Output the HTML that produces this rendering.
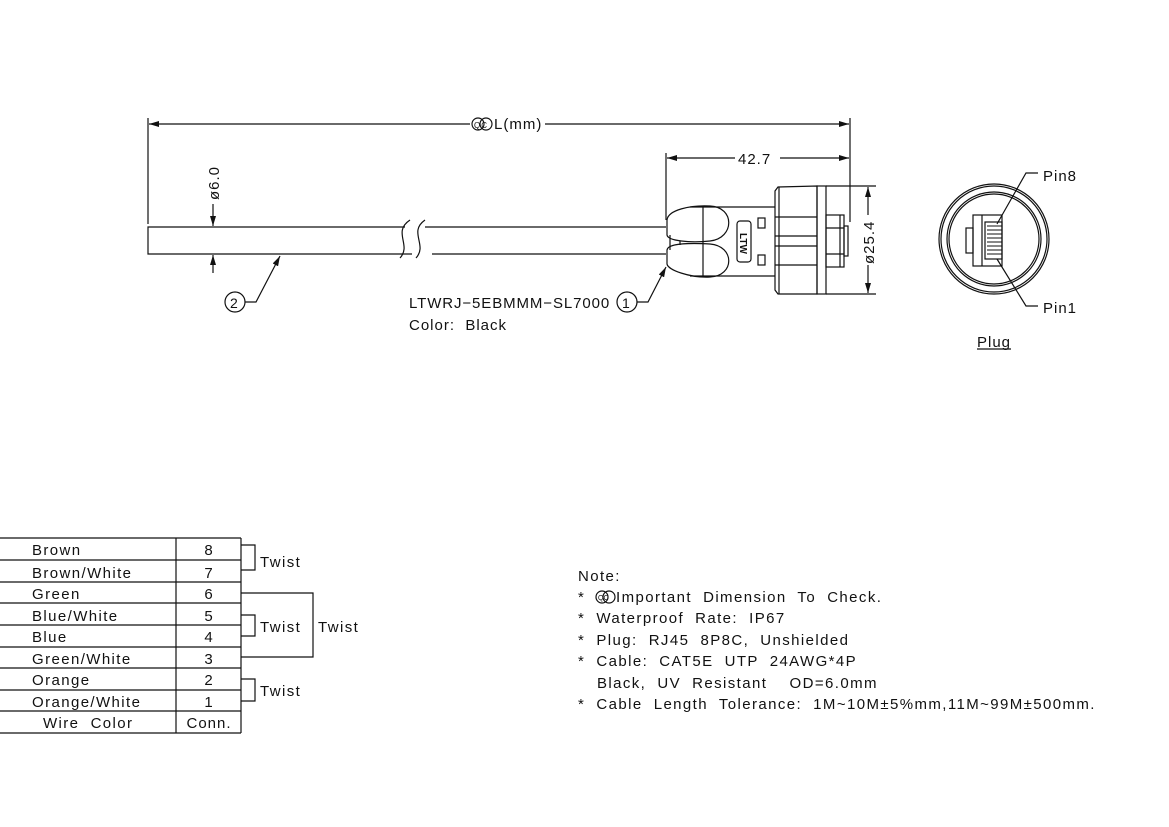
<!DOCTYPE html>
<html><head><style>
html,body{margin:0;padding:0;background:#fff;}
svg{display:block;}
text{font-family:"Liberation Sans",sans-serif;fill:#111;white-space:pre;}
</style></head><body>
<svg width="1169" height="827" viewBox="0 0 1169 827" xmlns="http://www.w3.org/2000/svg" xml:space="preserve">
<defs>
<marker id="a" markerWidth="10" markerHeight="6" refX="10" refY="3" orient="auto" markerUnits="userSpaceOnUse"><path d="M0,0 L10,3 L0,6 z" fill="#111"/></marker>
</defs>
<g stroke="#111" stroke-width="1.2" fill="none">
<line x1="148" y1="118" x2="148" y2="224"/>
<line x1="850" y1="118" x2="850" y2="222"/>
<line x1="470" y1="124" x2="149" y2="124" marker-end="url(#a)"/>
<line x1="545" y1="124" x2="849" y2="124" marker-end="url(#a)"/>
<line x1="666" y1="153" x2="666" y2="220"/>
<line x1="735" y1="158" x2="667" y2="158" marker-end="url(#a)"/>
<line x1="780" y1="158" x2="849" y2="158" marker-end="url(#a)"/>
<path d="M405,227 L148,227 L148,254 L412,254"/>
<path d="M425,227 L666,227 M432,254 L666,254"/>
<path d="M410,220 C392,232 412,245 400,258"/>
<path d="M425,220 C408,232 428,245 416,258"/>
<line x1="213" y1="204" x2="213" y2="226" marker-end="url(#a)"/>
<line x1="213" y1="273" x2="213" y2="255" marker-end="url(#a)"/>
<circle cx="235" cy="302" r="10"/>
<path d="M245,302 L256,302 L280,256" marker-end="url(#a)"/>
<path d="M690,207 L775,207 M690,276 L775,276"/>
<path d="M667,220 C668,210 690,205 710,206 C735,207 735,238 710,241 C690,243 668,241 667,235 Z"/>
<path d="M667,250 C668,243 690,243 710,244 C735,246 735,276 710,277 C690,278 668,270 667,264 Z"/>
<line x1="703" y1="206" x2="703" y2="277"/>
<line x1="670" y1="235" x2="670" y2="250"/>
<line x1="680" y1="241" x2="680" y2="245"/>
<rect x="737" y="221" width="14" height="41" rx="3"/>
<rect x="758" y="218" width="7" height="10"/>
<rect x="758" y="255" width="7" height="10"/>
<path d="M778,187 L817,186 L817,294 L778,294 L775,290 L775,191 Z"/>
<rect x="817" y="186" width="9" height="108"/>
<line x1="775" y1="217" x2="817" y2="217"/>
<line x1="775" y1="236" x2="817" y2="236"/>
<line x1="775" y1="246" x2="817" y2="246"/>
<line x1="775" y1="265" x2="817" y2="265"/>
<line x1="779" y1="187" x2="779" y2="294"/>
<rect x="826" y="215" width="18" height="52"/>
<line x1="826" y1="228" x2="844" y2="228"/>
<line x1="826" y1="254" x2="844" y2="254"/>
<line x1="840" y1="215" x2="840" y2="267"/>
<rect x="844" y="226" width="4" height="30"/>
<line x1="826" y1="186" x2="876" y2="186"/>
<line x1="826" y1="294" x2="876" y2="294"/>
<line x1="868" y1="215" x2="868" y2="187" marker-end="url(#a)"/>
<line x1="868" y1="265" x2="868" y2="293" marker-end="url(#a)"/>
<circle cx="627" cy="302" r="10"/>
<path d="M637,302 L648,302 L666,267" marker-end="url(#a)"/>
<circle cx="994" cy="239" r="55"/>
<circle cx="994" cy="239" r="53"/>
<circle cx="994" cy="239" r="47"/>
<circle cx="994" cy="239" r="45"/>
<rect x="973" y="215" width="29" height="51"/>
<rect x="966" y="228" width="7" height="25"/>
<line x1="982" y1="215" x2="982" y2="266"/>
<rect x="985" y="222" width="17" height="37"/>
<g stroke-width="1">
<line x1="987" y1="226" x2="1002" y2="226"/><line x1="987" y1="230" x2="1002" y2="230"/>
<line x1="987" y1="234" x2="1002" y2="234"/><line x1="987" y1="238" x2="1002" y2="238"/>
<line x1="987" y1="242" x2="1002" y2="242"/><line x1="987" y1="246" x2="1002" y2="246"/>
<line x1="987" y1="250" x2="1002" y2="250"/><line x1="987" y1="254" x2="1002" y2="254"/>
</g>
<path d="M997,224 L1026,173 L1038,173"/>
<path d="M997,259 L1026,306 L1038,306"/>
<line x1="977" y1="349" x2="1011" y2="349"/>
<line x1="0" y1="538" x2="241" y2="538"/>
<line x1="0" y1="560" x2="241" y2="560"/>
<line x1="0" y1="582" x2="241" y2="582"/>
<line x1="0" y1="603" x2="241" y2="603"/>
<line x1="0" y1="625" x2="241" y2="625"/>
<line x1="0" y1="647" x2="241" y2="647"/>
<line x1="0" y1="668" x2="241" y2="668"/>
<line x1="0" y1="690" x2="241" y2="690"/>
<line x1="0" y1="711" x2="241" y2="711"/>
<line x1="0" y1="733" x2="241" y2="733"/>
<line x1="176" y1="538" x2="176" y2="733"/>
<line x1="241" y1="538" x2="241" y2="733"/>
<path d="M241,545 L255,545 L255,570 L241,570"/>
<path d="M241,593 L313,593 L313,657 L241,657"/>
<path d="M241,615 L255,615 L255,636 L241,636"/>
<path d="M241,679 L255,679 L255,701 L241,701"/>
<!-- QC symbols -->
<circle cx="478" cy="124" r="6"/><circle cx="486" cy="124" r="6"/>
<circle cx="602" cy="597" r="6"/><circle cx="609" cy="597" r="6"/>
</g>
<g font-size="15" letter-spacing="1">
<text x="474" y="128" font-size="8">QC</text>
<text x="494" y="129">L(mm)</text>
<text x="738" y="164">42.7</text>
<text transform="translate(219,200) rotate(-90)">ø6.0</text>
<text transform="translate(874,264) rotate(-90)">ø25.4</text>
<text x="230" y="308" font-size="14">2</text>
<text x="622" y="308" font-size="14">1</text>
<text x="409" y="308" letter-spacing="0.9">LTWRJ−5EBMMM−SL7000</text>
<text x="409" y="330">Color:  Black</text>
<text x="1043" y="181">Pin8</text>
<text x="1043" y="313">Pin1</text>
<text x="977" y="347">Plug</text>
<text transform="translate(740,233) rotate(90)" font-size="10" font-weight="bold" letter-spacing="0">LTW</text>
</g>
<g font-size="15" letter-spacing="1.4">
<text x="32" y="555">Brown</text>
<text x="32" y="578">Brown/White</text>
<text x="32" y="599">Green</text>
<text x="32" y="621">Blue/White</text>
<text x="32" y="642">Blue</text>
<text x="32" y="664">Green/White</text>
<text x="32" y="685">Orange</text>
<text x="32" y="707">Orange/White</text>
<text x="43" y="728">Wire  Color</text>
<g text-anchor="middle" letter-spacing="1">
<text x="209" y="555">8</text><text x="209" y="578">7</text><text x="209" y="599">6</text>
<text x="209" y="621">5</text><text x="209" y="642">4</text><text x="209" y="664">3</text>
<text x="209" y="685">2</text><text x="209" y="707">1</text><text x="209" y="728">Conn.</text>
</g>
<text x="260" y="567">Twist</text>
<text x="260" y="632">Twist</text>
<text x="318" y="632">Twist</text>
<text x="260" y="696">Twist</text>
<text x="578" y="581">Note:</text>
<text x="578" y="602">*  </text>
<text x="598" y="600" font-size="7" letter-spacing="0">QC</text>
<text x="616" y="602">Important  Dimension  To  Check.</text>
<text x="578" y="623">*  Waterproof  Rate:  IP67</text>
<text x="578" y="645">*  Plug:  RJ45  8P8C,  Unshielded</text>
<text x="578" y="666">*  Cable:  CAT5E  UTP  24AWG*4P</text>
<text x="597" y="688">Black,  UV  Resistant    OD=6.0mm</text>
<text x="578" y="709">*  Cable  Length  Tolerance:  1M~10M±5%mm,11M~99M±500mm.</text>
</g>
</svg>
</body></html>
